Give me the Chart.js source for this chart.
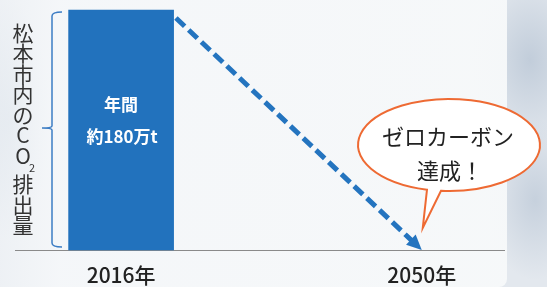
<!DOCTYPE html>
<html>
<head>
<meta charset="utf-8">
<script src="https://cdn.jsdelivr.net/npm/chart.js@4.4.0/dist/chart.umd.min.js"></script>
<style>
    html, body { margin: 0; padding: 0; }
    body {
        width: 547px;
        height: 287px;
        overflow: hidden;
        position: relative;
        background:
            radial-gradient(ellipse 60px 90px at 530px 60px, rgba(190, 202, 216, 0.9), rgba(190, 202, 216, 0) 100%),
            radial-gradient(ellipse 50px 80px at 535px 200px, rgba(195, 206, 219, 0.9), rgba(195, 206, 219, 0) 100%),
            radial-gradient(ellipse 40px 120px at 10px 120px, rgba(205, 215, 226, 0.9), rgba(205, 215, 226, 0) 100%),
            #e3e8ee;
    }
    #panel {
        position: absolute;
        left: 0;
        top: 0;
        width: 507px;
        height: 287px;
        background: linear-gradient(90deg, rgba(246, 248, 250, 0.55) 0px, rgba(246, 248, 250, 0.92) 60px, rgba(247, 249, 250, 0.95) 100%);
        border-bottom-right-radius: 8px;
    }
    #wrap { position: absolute; left: 0; top: 0; width: 547px; height: 287px; }
</style>
</head>
<body>
<div id="panel"></div>
<div id="wrap"><canvas id="chart"></canvas></div>
<script>
const years = [2016, 2050];
const emissions = [180, 0];
const arrowFrom = [2022.2, 174];
const arrowTo = [2050, 0];
const barLabel = ['年間', '約180万t'];
const bubbleLines = ['ゼロカーボン', '達成！'];
const axisTitle = ['松', '本', '市', '内', 'の', 'C', 'O', '2', '排', '出', '量'];

const fontJP = '"Noto Sans CJK JP", "Noto Sans", sans-serif';

const decorations = {
    id: 'decorations',
    afterDatasetsDraw(chart) {
        const { ctx, chartArea, scales } = chart;
        const x = scales.x;
        const y = scales.y;

        // bar text
        const bx = x.getPixelForValue(years[0]);
        ctx.save();
        ctx.fillStyle = '#ffffff';
        ctx.font = 'bold 17px ' + fontJP;
        ctx.textAlign = 'center';
        ctx.textBaseline = 'middle';
        ctx.fillText(barLabel[0], bx, 105);
        ctx.fillText(barLabel[1], bx + 1, 137);
        ctx.restore();

        // dashed arrow
        const x0 = x.getPixelForValue(arrowFrom[0]);
        const y0 = y.getPixelForValue(arrowFrom[1]);
        const x1 = x.getPixelForValue(arrowTo[0]);
        const y1 = y.getPixelForValue(arrowTo[1]);
        const len = Math.hypot(x1 - x0, y1 - y0);
        const ux = (x1 - x0) / len;
        const uy = (y1 - y0) / len;
        const head = 15;
        ctx.save();
        ctx.strokeStyle = '#2474bf';
        ctx.fillStyle = '#2474bf';
        ctx.lineWidth = 5;
        ctx.setLineDash([12, 5.5]);
        ctx.beginPath();
        ctx.moveTo(x0, y0);
        ctx.lineTo(x1 - ux * (head - 2), y1 - uy * (head - 2));
        ctx.stroke();
        ctx.setLineDash([]);
        ctx.beginPath();
        ctx.moveTo(x1, y1);
        ctx.lineTo(x1 - ux * head - uy * 7, y1 - uy * head + ux * 7);
        ctx.lineTo(x1 - ux * head + uy * 7, y1 - uy * head - ux * 7);
        ctx.closePath();
        ctx.fill();
        ctx.restore();

        // speech bubble
        const cx = 449, cy = 145, rx = 91, ry = 46;
        const tip = [x1 + 1, 228];
        ctx.save();
        ctx.beginPath();
        ctx.ellipse(cx, cy, rx, ry, 0, 1.815, 1.659, false);
        ctx.lineTo(tip[0], tip[1]);
        ctx.closePath();
        ctx.fillStyle = '#ffffff';
        ctx.fill();
        ctx.strokeStyle = '#ee6a33';
        ctx.lineWidth = 2;
        ctx.stroke();
        ctx.fillStyle = '#222222';
        ctx.font = '22px ' + fontJP;
        ctx.textAlign = 'center';
        ctx.textBaseline = 'middle';
        ctx.fillText(bubbleLines[0], cx - 1, 137);
        ctx.fillText(bubbleLines[1], cx + 1, 171);
        ctx.restore();

        // bracket
        const top = chartArea.top + 2;
        const bottom = chartArea.bottom - 3;
        const mid = 128;
        ctx.save();
        ctx.strokeStyle = '#3d7dc4';
        ctx.lineWidth = 1.5;
        ctx.beginPath();
        ctx.moveTo(62, top);
        ctx.quadraticCurveTo(52, top, 52, top + 4);
        ctx.lineTo(52, mid - 2);
        ctx.quadraticCurveTo(52, mid, 42, mid);
        ctx.quadraticCurveTo(52, mid, 52, mid + 2);
        ctx.lineTo(52, bottom - 4);
        ctx.quadraticCurveTo(52, bottom, 62, bottom);
        ctx.stroke();

        // vertical axis title
        ctx.fillStyle = '#333333';
        ctx.textAlign = 'center';
        ctx.textBaseline = 'middle';
        let ty = 33;
        axisTitle.forEach((ch) => {
            if (ch === '2') {
                ctx.font = '11px ' + fontJP;
                ctx.fillText(ch, 32, ty - 9);
                ty += 8;
                return;
            }
            ctx.font = '21px ' + fontJP;
            ctx.fillText(ch, 23, ty);
            ty += 20.5;
        });
        ctx.restore();
    },
};

new Chart(document.getElementById('chart').getContext('2d'), {
    type: 'bar',
    data: {
        datasets: [
            {
                data: years.map((yr, i) => ({ x: yr, y: emissions[i] })).filter((d) => d.y > 0),
                backgroundColor: '#2272bd',
                barThickness: 105,
                clip: false,
            },
        ],
    },
    options: {
        responsive: true,
        maintainAspectRatio: false,
        animation: false,
        events: [],
        layout: {
            padding: { left: 15, right: 43, top: 10, bottom: 0 },
        },
        plugins: {
            legend: { display: false },
            tooltip: { enabled: false },
        },
        scales: {
            x: {
                type: 'linear',
                min: 2004,
                max: 2059.3,
                offset: false,
                afterBuildTicks: (scale) => {
                    scale.ticks = years.map((v) => ({ value: v }));
                },
                afterFit: (scale) => {
                    scale.height = 37;
                },
                ticks: {
                    padding: 12,
                    color: '#222222',
                    font: { family: fontJP, size: 21, weight: '500' },
                    callback: (v) => v + '年',
                    maxRotation: 0,
                },
                grid: { display: false, drawTicks: false },
                border: { display: true, color: '#8a8a8a', width: 1 },
            },
            y: {
                display: false,
                min: 0,
                max: 180,
            },
        },
    },
    plugins: [decorations],
});
</script>
</body>
</html>
